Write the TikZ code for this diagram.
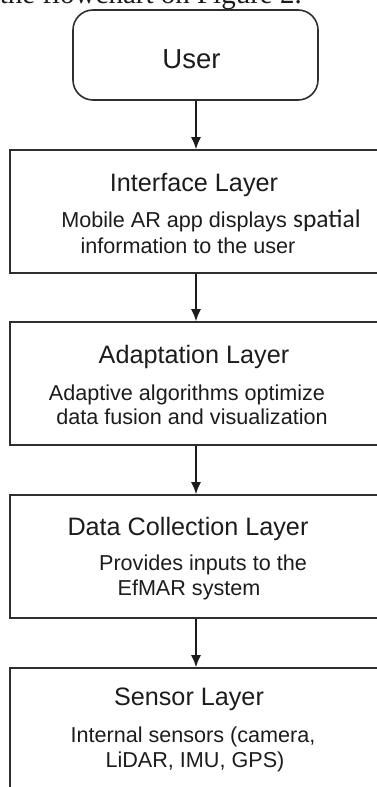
\documentclass[tikz,border=0pt]{standalone}
\usepackage{fontspec}
\setmainfont{Liberation Sans}
\newfontfamily\serifcut{Liberation Serif}
\newfontfamily\calibrilike{Carlito}
\usetikzlibrary{arrows.meta}

\definecolor{boxline}{HTML}{2E2E2E}
\definecolor{ink}{HTML}{1C1C1C}

\tikzset{
  layerbox/.style={rectangle, draw=boxline, line width=1.6pt, inner sep=0pt,
    minimum width=372pt, minimum height=123pt},
  userbox/.style={rectangle, rounded corners=20pt, draw=boxline, line width=1.6pt,
    inner sep=0pt, minimum width=245pt, minimum height=90pt},
  title/.style={anchor=base, inner sep=0pt, text=ink, font=\fontsize{25.2}{30}\selectfont},
  body/.style={anchor=base, inner sep=0pt, text=ink, font=\fontsize{21.6}{26}\selectfont},
  flow/.style={draw=ink, line width=1.4pt, -{Latex[length=12pt,width=10pt]}}
}

\begin{document}
\begin{tikzpicture}[x=1pt,y=-1pt]

      \useasboundingbox (0,0) rectangle (376,787);

      % caption line running in from above
      \node[anchor=base east, inner sep=0pt, text=ink, font=\serifcut\fontsize{29}{34}\selectfont]
        (cap) at (302,4) {the flowchart on Figure 2.};

      % boxes
      \node[userbox]  (user)  at (195.5,55)  {};
      \node[layerbox] (iface) at (196,211.5) {};
      \node[layerbox] (adapt) at (196,383.5) {};
      \node[layerbox] (dcoll) at (196,556.5) {};
      \node[layerbox] (sens)  at (196,729.5) {};

      % texts
      \node[anchor=base, inner sep=0pt, text=ink, font=\fontsize{27.5}{32}\selectfont]
        (usertxt) at (191.5,68) {User};

      \node[title] (ifacehd) at (194,191) {Interface Layer};
      \node[body]  (ifaceb1) at (211,227) {Mobile AR app displays {\calibrilike\fontsize{25.5}{30}\selectfont spatial}};
      \node[body]  (ifaceb2) at (188,253) {information to the user};

      \node[title] (adapthd) at (194,363) {Adaptation Layer};
      \node[body]  (adaptb1) at (187,400) {Adaptive algorithms optimize};
      \node[body]  (adaptb2) at (192,424) {data fusion and visualization};

      \node[title] (dcollhd) at (188,535) {Data Collection Layer};
      \node[body]  (dcollb1) at (203,570) {Provides inputs to the};
      \node[body]  (dcollb2) at (189,595) {EfMAR system};

      \node[title] (senshd)  at (189,705) {Sensor Layer};
      \node[body]  (sensb1)  at (193,742) {Internal sensors (camera,};
      \node[body]  (sensb2)  at (195,767) {LiDAR, IMU, GPS)};

      % arrows between layers
      \begin{scope}[every edge/.style={flow}]
        \path (user.south -| iface.north)  edge (iface.north);
        \path (iface) edge (adapt);
        \path (adapt) edge (dcoll);
        \path (dcoll) edge (sens);
      \end{scope}

    \end{tikzpicture}
\end{document}
